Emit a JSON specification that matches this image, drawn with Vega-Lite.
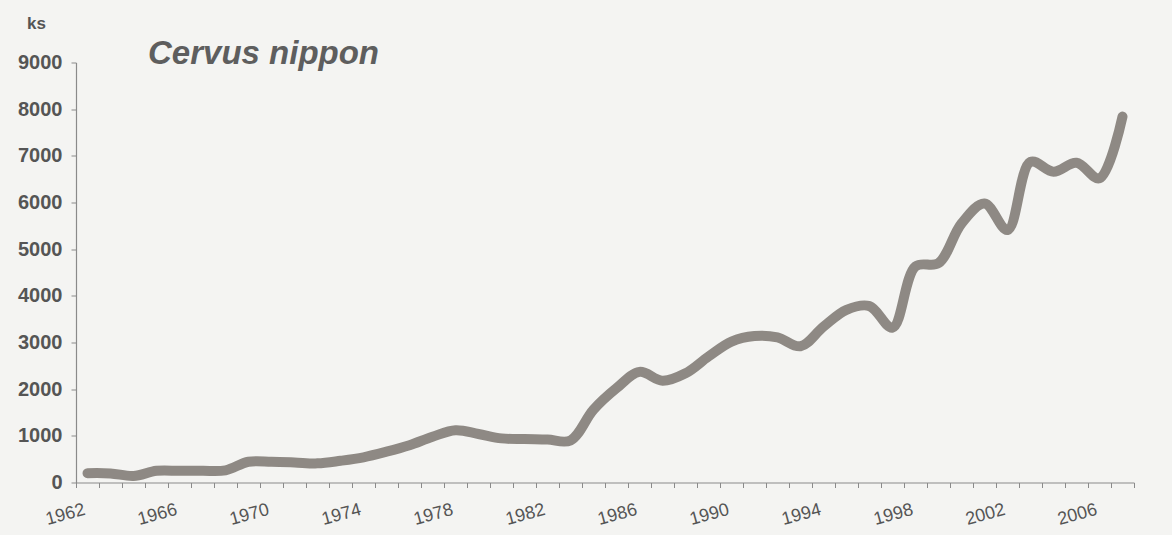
{
  "$schema": "https://vega.github.io/schema/vega-lite/v6.json",
  "autosize": "none",
  "padding": {"left": 76, "top": 62.5, "right": 38, "bottom": 52},
  "width": 1058,
  "height": 420,
  "background": "#f4f4f2",
  "title": {
    "text": "Cervus nippon",
    "anchor": "start",
    "frame": "group",
    "dx": 72,
    "dy": 60,
    "offset": 4,
    "font": "Liberation Sans",
    "fontSize": 33,
    "fontStyle": "italic",
    "fontWeight": "bold",
    "color": "#5e5e5e"
  },
  "data": {
    "values": [
      {"year": 1962, "ks": 200},
      {"year": 1963, "ks": 195},
      {"year": 1964, "ks": 140},
      {"year": 1965, "ks": 250},
      {"year": 1966, "ks": 250},
      {"year": 1967, "ks": 250},
      {"year": 1968, "ks": 260},
      {"year": 1969, "ks": 445},
      {"year": 1970, "ks": 445},
      {"year": 1971, "ks": 430},
      {"year": 1972, "ks": 410},
      {"year": 1973, "ks": 465},
      {"year": 1974, "ks": 540},
      {"year": 1975, "ks": 660},
      {"year": 1976, "ks": 800},
      {"year": 1977, "ks": 980},
      {"year": 1978, "ks": 1120},
      {"year": 1979, "ks": 1040},
      {"year": 1980, "ks": 945},
      {"year": 1981, "ks": 930},
      {"year": 1982, "ks": 920},
      {"year": 1983, "ks": 900},
      {"year": 1984, "ks": 1560},
      {"year": 1985, "ks": 2020},
      {"year": 1986, "ks": 2370},
      {"year": 1987, "ks": 2180},
      {"year": 1988, "ks": 2340},
      {"year": 1989, "ks": 2700},
      {"year": 1990, "ks": 3020},
      {"year": 1991, "ks": 3140},
      {"year": 1992, "ks": 3110},
      {"year": 1993, "ks": 2920},
      {"year": 1994, "ks": 3340},
      {"year": 1995, "ks": 3700},
      {"year": 1996, "ks": 3780},
      {"year": 1997, "ks": 3320},
      {"year": 1998, "ks": 4630},
      {"year": 1999, "ks": 4700},
      {"year": 2000, "ks": 5550},
      {"year": 2001, "ks": 5980},
      {"year": 2002, "ks": 5410},
      {"year": 2003, "ks": 6870},
      {"year": 2004, "ks": 6660},
      {"year": 2005, "ks": 6850},
      {"year": 2006, "ks": 6520},
      {"year": 2007, "ks": 7840}
    ]
  },
  "mark": {
    "type": "line",
    "interpolate": "catmull-rom",
    "strokeWidth": 10,
    "strokeCap": "round",
    "strokeJoin": "round",
    "color": "#8e8984"
  },
  "encoding": {
    "x": {
      "field": "year",
      "type": "quantitative",
      "scale": {"domain": [1961.5, 2007.5], "nice": false, "zero": false},
      "axis": {
        "title": null,
        "grid": false,
        "values": [1961.5, 1962.5, 1963.5, 1964.5, 1965.5, 1966.5, 1967.5, 1968.5, 1969.5, 1970.5, 1971.5, 1972.5, 1973.5, 1974.5, 1975.5, 1976.5, 1977.5, 1978.5, 1979.5, 1980.5, 1981.5, 1982.5, 1983.5, 1984.5, 1985.5, 1986.5, 1987.5, 1988.5, 1989.5, 1990.5, 1991.5, 1992.5, 1993.5, 1994.5, 1995.5, 1996.5, 1997.5, 1998.5, 1999.5, 2000.5, 2001.5, 2002.5, 2003.5, 2004.5, 2005.5, 2006.5, 2007.5],
        "labelExpr": "(datum.value - 0.5) % 4 == 2 ? format(datum.value - 0.5, 'd') : ''",
        "labelOffset": -17,
        "labelAngle": -15,
        "labelAlign": "right",
        "labelBaseline": "top",
        "labelOverlap": false,
        "labelFlush": false,
        "labelBound": false,
        "labelPadding": 13,
        "labelFont": "Liberation Sans",
        "labelFontSize": 18,
        "labelColor": "#555555",
        "tickSize": 5,
        "tickColor": "#8a8a8a",
        "domainColor": "#8a8a8a",
        "domainWidth": 1.2
      }
    },
    "y": {
      "field": "ks",
      "type": "quantitative",
      "scale": {"domain": [0, 9000], "nice": false},
      "axis": {
        "title": "ks",
        "titleAngle": 0,
        "titleX": -40,
        "titleY": -39,
        "titleAlign": "center",
        "titleBaseline": "middle",
        "titleFont": "Liberation Sans",
        "titleFontSize": 17,
        "titleFontWeight": "bold",
        "titleColor": "#555555",
        "grid": false,
        "values": [0, 1000, 2000, 3000, 4000, 5000, 6000, 7000, 8000, 9000],
        "format": "d",
        "labelFont": "Liberation Sans",
        "labelFontSize": 20,
        "labelFontWeight": "bold",
        "labelColor": "#555555",
        "labelPadding": 9,
        "tickSize": 5,
        "tickColor": "#8a8a8a",
        "domainColor": "#8a8a8a",
        "domainWidth": 1.2
      }
    }
  },
  "config": {"view": {"stroke": null}}
}
